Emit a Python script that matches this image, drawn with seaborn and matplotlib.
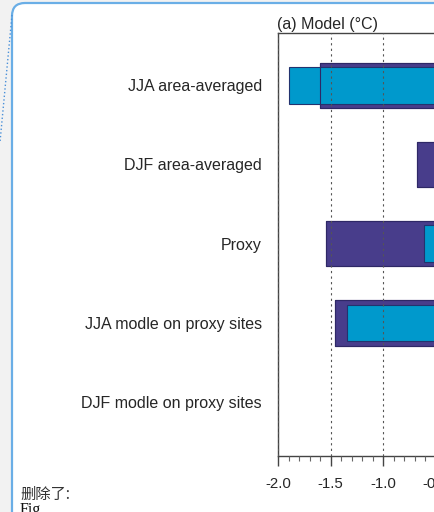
import matplotlib
matplotlib.use("Agg")
import matplotlib.pyplot as plt
import seaborn as sns
from matplotlib.patches import FancyBboxPatch
from matplotlib.lines import Line2D
from matplotlib.ticker import MultipleLocator

# data (left end of each range; right end is cut off)
categories = ["JJA area-averaged", "DJF area-averaged", "Proxy",
              "JJA modle on proxy sites", "DJF modle on proxy sites"]
purple_vals = [-1.60, -0.68, -1.54, -1.46, -0.35]
cyan_vals = [-1.90, -0.40, -0.61, -1.34, -0.30]
xticks = [-2.0, -1.5, -1.0, -0.5, 0.0]

purple = "#483d8b"
cyan = "#0099cc"

sns.set_style("ticks")
plt.rcParams['font.family'] = ['Liberation Sans', 'DejaVu Sans']

fig = plt.figure(figsize=(4.35, 5.12), dpi=100, facecolor="#f2f2f2")

# comment-pane style white panel with blue border
panel = FancyBboxPatch((0.12, -0.5), 5.0, 5.59, boxstyle="round,pad=0,rounding_size=0.13",
                       transform=fig.dpi_scale_trans, facecolor="white",
                       edgecolor="#6aaee6", linewidth=1.6, zorder=-5)
fig.patches.append(panel)
fig.lines.append(Line2D([0.12, 0.0], [4.97, 3.70], transform=fig.dpi_scale_trans,
                        color="#4a90d9", linestyle=":", linewidth=1.0, zorder=-4))

ax = fig.add_axes([278 / 435, 56 / 512, 263 / 435, 423 / 512])
ax.set_zorder(2)

sns.barplot(x=purple_vals, y=categories, orient="h", color=purple, width=0.574,
            edgecolor="#3a3370", linewidth=0.8, saturation=1, ax=ax)
sns.barplot(x=cyan_vals, y=categories, orient="h", color=cyan, width=0.464,
            edgecolor="#23336e", linewidth=0.8, saturation=1, ax=ax)
# purple outline on top
sns.barplot(x=purple_vals, y=categories, orient="h", color="#2e2866", width=0.574,
            fill=False, linewidth=0.8, ax=ax)

ax.set_xlim(-2.0, 0.5)
ax.set_ylim(4.68, -0.66)
ax.set_xticks(xticks)
ax.set_xticklabels([f"{v:.1f}" for v in xticks])
ax.xaxis.set_minor_locator(MultipleLocator(0.1))
ax.set_axisbelow(False)
ax.grid(axis="x", which="major", linestyle=(0, (2, 3)), color="#555555", linewidth=0.8)
ax.grid(axis="y", visible=False)

ax.tick_params(axis="x", which="major", length=7, width=1, color="#444444",
               labelsize=10.8, pad=8)
ax.tick_params(axis="x", which="minor", length=3.5, width=0.8, color="#666666")
ax.tick_params(axis="y", length=0, pad=11.5, labelsize=11.5)
for s in ax.spines.values():
    s.set_color("#444444")
    s.set_linewidth(1.0)
ax.set_xlabel("")
ax.set_ylabel("")
ax.set_title("(a) Model (°C)", loc="left", fontsize=11.5, pad=3, x=-0.005)

fig.text(20 / 435, 1 - 499 / 512, "删除了:", family=['Noto Sans CJK SC', 'DejaVu Sans'],
         fontsize=11, color="#333333", ha="left", va="baseline")
fig.text(20 / 435, 1 - 514 / 512, "Fig.", family=['Liberation Serif', 'DejaVu Serif'],
         fontsize=11.5, color="#111111", ha="left", va="baseline")

plt.savefig("out.png", dpi=100, facecolor=fig.get_facecolor())
